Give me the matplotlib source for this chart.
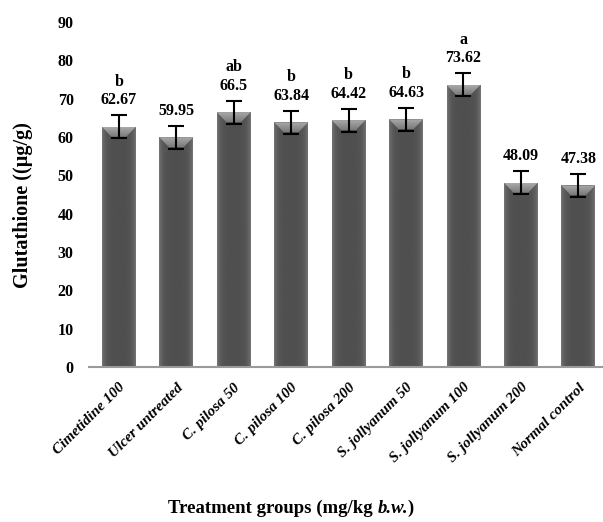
import matplotlib
matplotlib.use("Agg")
import matplotlib.pyplot as plt
import numpy as np
from matplotlib.patches import Polygon, Rectangle

categories = ["Cimetidine 100", "Ulcer untreated", "C. pilosa 50", "C. pilosa 100",
              "C. pilosa 200", "S. jollyanum 50", "S. jollyanum 100",
              "S. jollyanum 200", "Normal control"]
values = [62.67, 59.95, 66.5, 63.84, 64.42, 64.63, 73.62, 48.09, 47.38]
errors = [3.0, 3.0, 3.0, 3.0, 3.0, 3.0, 3.0, 3.0, 3.0]
letters = ["b", "", "ab", "b", "b", "b", "a", "", ""]
value_labels = ["62.67", "59.95", "66.5", "63.84", "64.42", "64.63", "73.62", "48.09", "47.38"]
yticks = [0, 10, 20, 30, 40, 50, 60, 70, 80, 90]

serif = ["Liberation Serif", "DejaVu Serif"]

W, H = 603, 522
fig = plt.figure(figsize=(W / 100, H / 100), dpi=100)
ax = fig.add_axes([89 / W, 155 / H, 514 / W, 345 / H])
ax.set_xlim(-0.52, 8.43)
ax.set_ylim(0, 90)

bw = 0.59
prof = np.linspace(-1, 1, 64)
shade = 0.31 + 0.12 * prof ** 6 + 0.03 * prof ** 2
body_img = np.tile(shade, (2, 1))
cmap = plt.get_cmap("gray")

for i, v in enumerate(values):
    x0, x1 = i - bw / 2, i + bw / 2
    rect = Rectangle((x0, 0), bw, v, facecolor="none", edgecolor="none")
    ax.add_patch(rect)
    im = ax.imshow(body_img, cmap=cmap, vmin=0, vmax=1, aspect="auto",
                   extent=(x0, x1, 0, v), interpolation="bilinear", zorder=2)
    im.set_clip_path(rect)
    bh = 2.6
    poly = Polygon([(x0, v), (x1, v), (i + bw * 0.22, v - bh), (i - bw * 0.22, v - bh)],
                   closed=True, facecolor="none", edgecolor="none")
    ax.add_patch(poly)
    grad = np.linspace(0.66, 0.48, 32)[:, None] * np.ones((1, 8))
    im2 = ax.imshow(grad, cmap=cmap, vmin=0, vmax=1, aspect="auto",
                    extent=(x0, x1, v - bh, v), interpolation="bilinear", zorder=3)
    im2.set_clip_path(poly)

x = np.arange(len(categories))
ax.errorbar(x, values, yerr=errors, fmt="none", ecolor="black", elinewidth=1.5,
            capsize=6, capthick=1.5, zorder=5)

for i, (v, e) in enumerate(zip(values, errors)):
    ax.annotate(value_labels[i], xy=(i, v + e), xytext=(0, 5), textcoords="offset points",
                ha="center", va="bottom", fontsize=11.5, fontweight="bold", family=serif)
    if letters[i]:
        ax.annotate(letters[i], xy=(i, v + e), xytext=(0, 18.5), textcoords="offset points",
                    ha="center", va="bottom", fontsize=11.5, fontweight="bold", family=serif)

for s in ["top", "right", "left"]:
    ax.spines[s].set_visible(False)
ax.spines["bottom"].set_color("#9a9a9a")
ax.spines["bottom"].set_linewidth(1.5)

ax.set_yticks(yticks)
ax.set_yticklabels([str(t) for t in yticks], fontsize=11.5, fontweight="bold", family=serif)
ax.tick_params(axis="y", length=0, pad=11)
ax.set_xticks(x)
ax.set_xticklabels(categories, rotation=45, ha="right", rotation_mode="anchor",
                   fontsize=11, fontweight="bold", fontstyle="italic", family=serif)
ax.tick_params(axis="x", length=0, pad=10)

ax.set_ylabel("Glutathione ((µg/g)", fontsize=14.5, fontweight="bold", family=serif)
ax.yaxis.set_label_coords(-0.108, 0.47)

fig.canvas.draw()
r = fig.canvas.get_renderer()
parts = [("Treatment groups (mg/kg ", "normal"), ("b.w.", "italic"), (")", "normal")]
texts = []
for s, st in parts:
    t = fig.text(0, 0, s, fontsize=13.5, fontweight="bold", fontstyle=st, family=serif,
                 va="baseline", ha="left")
    texts.append(t)
widths = [t.get_window_extent(r).width for t in texts]
total = sum(widths)
cx = 291
xs = cx - total / 2
yb = 9
for t, w in zip(texts, widths):
    t.set_position((xs / W, yb / H))
    xs += w

fig.savefig("out.png", dpi=100)
